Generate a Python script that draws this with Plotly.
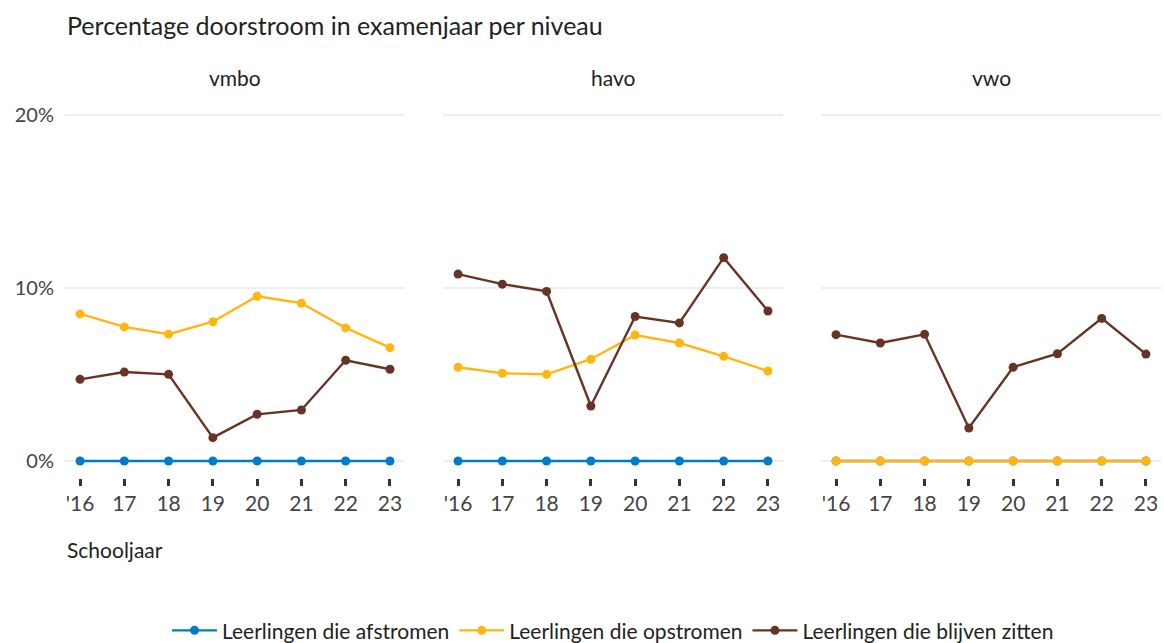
import plotly.graph_objects as go

years = ["'16", "17", "18", "19", "20", "21", "22", "23"]
levels = ["vmbo", "havo", "vwo"]
series_names = ["Leerlingen die afstromen", "Leerlingen die opstromen", "Leerlingen die blijven zitten"]
colors = ["#007bc7", "#ffb612", "#673327"]

afstromen = {
    "vmbo": [0, 0, 0, 0, 0, 0, 0, 0],
    "havo": [0, 0, 0, 0, 0, 0, 0, 0],
    "vwo":  [0, 0, 0, 0, 0, 0, 0, 0],
}
opstromen = {
    "vmbo": [8.5, 7.75, 7.33, 8.05, 9.52, 9.12, 7.69, 6.55],
    "havo": [5.42, 5.07, 5.01, 5.88, 7.28, 6.82, 6.05, 5.2],
    "vwo":  [0, 0, 0, 0, 0, 0, 0, 0],
}
blijven_zitten = {
    "vmbo": [4.72, 5.14, 5.01, 1.35, 2.7, 2.95, 5.82, 5.3],
    "havo": [10.8, 10.22, 9.8, 3.18, 8.35, 7.98, 11.75, 8.67],
    "vwo":  [7.3, 6.82, 7.32, 1.91, 5.42, 6.2, 8.24, 6.18],
}
y_ticks = [0, 10, 20]
y_ticktext = ["0%", "10%", "20%"]

FONT = "Lato"
W, H = 1164, 643
ML, MR, MT, MB = 65, 3, 101, 165
pw = W - ML - MR
domains = [[0, 340 / pw], [378 / pw, 718 / pw], [756 / pw, 1.0]]

fig = go.Figure()
xs = list(range(len(years)))
data_sets = [afstromen, opstromen, blijven_zitten]

for i, lvl in enumerate(levels):
    xa = "x" if i == 0 else f"x{i+1}"
    for s, (name, col, ds) in enumerate(zip(series_names, colors, data_sets)):
        fig.add_trace(go.Scatter(
            x=xs, y=ds[lvl], mode="lines+markers", name=name,
            line=dict(color=col, width=2.4), marker=dict(color=col, size=9),
            xaxis=xa, yaxis="y", legendgroup=name, showlegend=(i == 0),
        ))

layout = dict(
    width=W, height=H,
    margin=dict(l=ML, r=MR, t=MT, b=MB, autoexpand=False),
    plot_bgcolor="white", paper_bgcolor="white",
    font=dict(family=FONT, color="#222222"),
    showlegend=True,
    legend=dict(orientation="h", x=0.5, xanchor="center", y=-0.405, yanchor="middle",
                font=dict(size=21, color="#222222"), itemwidth=45, traceorder="normal"),
    yaxis=dict(range=[-0.98, 20.8], tickvals=y_ticks, ticktext=y_ticktext,
               showgrid=True, gridcolor="#eeeeee", gridwidth=2, zeroline=False,
               ticks="", tickfont=dict(size=20, color="#444444"), showline=False,
               automargin=False, ticklabelstandoff=10),
)
for i, lvl in enumerate(levels):
    key = "xaxis" if i == 0 else f"xaxis{i+1}"
    layout[key] = dict(
        domain=domains[i], range=[-0.34, 7.34], tickvals=xs, ticktext=years,
        showgrid=False, zeroline=False, showline=False,
        ticks="outside", ticklen=7, tickwidth=2.5, tickcolor="#333333",
        tickfont=dict(size=21, color="#444444"), anchor="y", automargin=False,
    )
fig.update_layout(**layout)

for i in range(1, 3):
    xa = f"x{i+1}"
    for v in y_ticks:
        fig.add_shape(type="line", xref=f"{xa} domain", yref="y", x0=0, x1=1, y0=v, y1=v,
                      line=dict(color="#eeeeee", width=2), layer="below")

for gap in [(340 / pw, 378 / pw), (718 / pw, 756 / pw)]:
    fig.add_shape(type="rect", xref="paper", yref="paper", x0=gap[0], x1=gap[1], y0=0, y1=1,
                  line=dict(width=0), fillcolor="white", layer="below")

fig.add_annotation(text="Percentage doorstroom in examenjaar per niveau", xref="paper", yref="paper",
                   x=0, y=1, xanchor="left", yanchor="middle", yshift=101 - 25, showarrow=False,
                   font=dict(size=25, color="#222222"))
for i, lvl in enumerate(levels):
    fig.add_annotation(text=lvl, xref="paper", yref="paper", x=(domains[i][0] + domains[i][1]) / 2,
                       xanchor="center", y=1, yanchor="middle", yshift=101 - 77, showarrow=False,
                       font=dict(size=21, color="#222222"))
fig.add_annotation(text="Schooljaar", xref="paper", yref="paper", x=0, xanchor="left",
                   y=0, yanchor="middle", yshift=-(549 - 478), showarrow=False,
                   font=dict(size=21, color="#222222"))

fig.write_html("out.html", config={"displayModeBar": False},
               post_script="document.body.style.margin='0px';")
